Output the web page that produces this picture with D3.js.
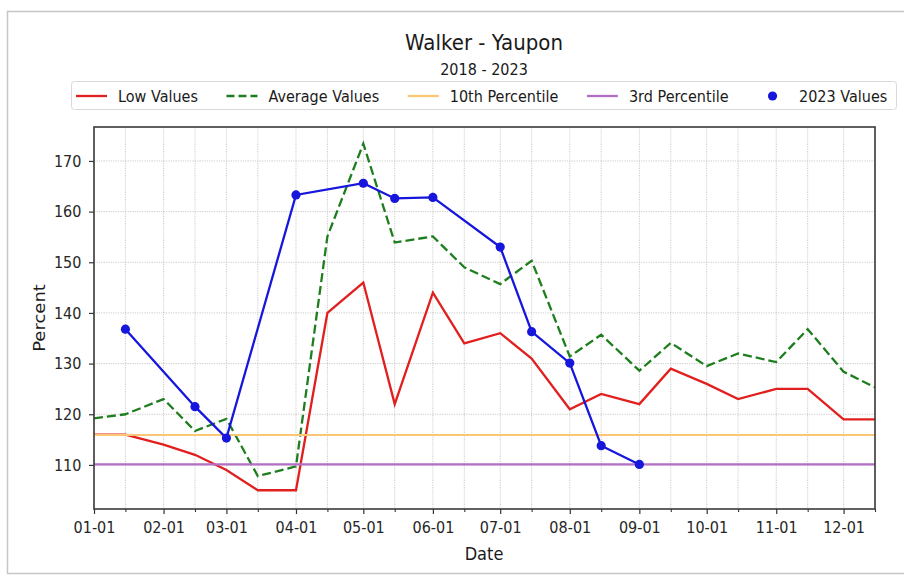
<!DOCTYPE html>
<html>
<head>
<meta charset="utf-8">
<script src="https://cdn.jsdelivr.net/npm/d3@7"></script>
<style>
    body { margin: 0; background: #fff; }
    svg { display: block; font-family: "DejaVu Sans", sans-serif; }
</style>
</head>
<body>
<svg id="chart" width="904" height="575"></svg>
<script>
// data
const dates = ['01-01', '01-15', '02-01', '02-15', '03-01', '03-15', '04-01', '04-15',
    '05-01', '05-15', '06-01', '06-15', '07-01', '07-15', '08-01', '08-15',
    '09-01', '09-15', '10-01', '10-15', '11-01', '11-15', '12-01', '12-15']
const lowValues = [116, 116, 114, 112, 109, 105, 105, 140, 146, 122, 144, 134,
    136, 131, 121, 124, 122, 129, 126, 123, 125, 125, 119, 119]
const avgValues = [119.2, 120, 123, 116.7, 119.1, 107.8, 109.7, 155.1, 173.4, 153.9, 155.1, 149.0,
    145.7, 150.3, 131.4, 135.7, 128.6, 134.1, 129.5, 132.0, 130.3, 136.8, 128.4, 125.3]
const dates2023 = ['01-15', '02-15', '03-01', '04-01', '05-01', '05-15', '06-01',
    '07-01', '07-15', '08-01', '08-15', '09-01']
const values2023 = [136.8, 121.5, 115.3, 163.3, 165.6, 162.6, 162.8, 153.0, 136.3, 130.1, 113.8, 110.1]
const p10 = 115.9
const p3 = 110.1
const yTicks = [110, 120, 130, 140, 150, 160, 170]
const yDomain = [101.3, 176.7]

const titleText = 'Walker - Yaupon'
const subtitleText = '2018 - 2023'

// the source screenshot looks squeezed sideways a bit
const sx = 0.9

const svg = d3.select('#chart')
const margin = { top: 127, right: 29, bottom: 66, left: 94 },
    width = 904 - margin.left - margin.right,
    height = 575 - margin.top - margin.bottom

const parse = d => d3.timeParse('%Y-%m-%d')('2023-' + d)
const toPts = (ds, vs) => ds.map((d, i) => ({ date: parse(d), value: vs[i] }))

const lowData = toPts(dates, lowValues)
const avgData = toPts(dates, avgValues)
const data2023 = toPts(dates2023, values2023)
const start = parse(dates[0]), end = parse(dates[dates.length - 1])

// outer frame of the screenshot
svg.append('rect')
    .attr('x', 7.5).attr('y', 11.5)
    .attr('width', 930).attr('height', 562)
    .attr('fill', '#fff')
    .attr('stroke', '#c6c6c6')
    .attr('stroke-width', 1.5)

const x = d3.scaleTime().domain([start, end]).range([0, width])
const y = d3.scaleLinear().domain(yDomain).range([height, 0])

const majorX = d3.timeMonth.range(start, d3.timeDay.offset(end, 1))
const minorX = d3.timeDay.range(start, d3.timeDay.offset(end, 1)).filter(d => d.getDate() === 15)

const g = svg.append('g').attr('transform', `translate(${margin.left},${margin.top})`)

// grid
g.append('g').selectAll('line.gx')
    .data(majorX.concat(minorX))
    .join('line')
    .attr('x1', d => x(d)).attr('x2', d => x(d))
    .attr('y1', 0).attr('y2', height)
    .attr('stroke', '#bdbdbd').attr('stroke-width', 0.8)
    .attr('stroke-dasharray', '1.2,1.2')
g.append('g').selectAll('line.gy')
    .data(yTicks)
    .join('line')
    .attr('x1', 0).attr('x2', width)
    .attr('y1', d => y(d)).attr('y2', d => y(d))
    .attr('stroke', '#bdbdbd').attr('stroke-width', 0.8)
    .attr('stroke-dasharray', '1.2,1.2')

// axes
const xAxis = g.append('g')
    .attr('transform', `translate(0,${height})`)
    .call(d3.axisBottom(x).tickValues(majorX).tickFormat(d3.timeFormat('%m-%d'))
        .tickSize(5).tickPadding(8).tickSizeOuter(0))
g.append('g')
    .attr('transform', `translate(0,${height})`)
    .call(d3.axisBottom(x).tickValues(minorX).tickFormat('').tickSize(3).tickSizeOuter(0))
    .call(a => a.select('.domain').remove())
    .selectAll('line').attr('stroke', '#333').attr('stroke-width', 1.1)
const yAxis = g.append('g')
    .call(d3.axisLeft(y).tickValues(yTicks).tickSize(5).tickPadding(9).tickSizeOuter(0))

;[xAxis, yAxis].forEach(a => {
    a.select('.domain').remove()
    a.selectAll('line').attr('stroke', '#333').attr('stroke-width', 1.2)
    a.selectAll('text')
        .attr('font-family', '"DejaVu Sans", sans-serif')
        .attr('font-size', 16)
        .attr('fill', '#262626')
        .attr('transform', `scale(${sx},1)`)
})

// series
const line = d3.line().x(d => x(d.date)).y(d => y(d.value))

g.append('path').datum(lowData)
    .attr('d', line).attr('fill', 'none')
    .attr('stroke', '#e21f1f').attr('stroke-width', 2.3)
g.append('path').datum(avgData)
    .attr('d', line).attr('fill', 'none')
    .attr('stroke', '#1e7e1e').attr('stroke-width', 2.3)
    .attr('stroke-dasharray', '9,4')
g.append('path').datum([{ date: start, value: p10 }, { date: end, value: p10 }])
    .attr('d', line).attr('fill', 'none')
    .attr('stroke', '#fbc775').attr('stroke-width', 2)
g.append('path').datum([{ date: start, value: p3 }, { date: end, value: p3 }])
    .attr('d', line).attr('fill', 'none')
    .attr('stroke', '#b46ec4').attr('stroke-width', 2.3)
g.append('path').datum(data2023)
    .attr('d', line).attr('fill', 'none')
    .attr('stroke', '#1616dc').attr('stroke-width', 2.3)
g.append('g').selectAll('circle')
    .data(data2023)
    .join('circle')
    .attr('cx', d => x(d.date)).attr('cy', d => y(d.value))
    .attr('r', 4.6)
    .attr('fill', '#1616dc')

// spines
g.append('rect')
    .attr('width', width).attr('height', height)
    .attr('fill', 'none')
    .attr('stroke', '#3a3a3a').attr('stroke-width', 1.6)

// titles
svg.append('text')
    .attr('transform', `translate(484,50) scale(${sx},1)`)
    .attr('text-anchor', 'middle')
    .attr('font-size', 22).attr('fill', '#1a1a1a')
    .text(titleText)
svg.append('text')
    .attr('transform', `translate(484,75) scale(${sx},1)`)
    .attr('text-anchor', 'middle')
    .attr('font-size', 16).attr('fill', '#1a1a1a')
    .text(subtitleText)
svg.append('text')
    .attr('transform', `translate(484,560) scale(${sx},1)`)
    .attr('text-anchor', 'middle')
    .attr('font-size', 18).attr('fill', '#1a1a1a')
    .text('Date')
svg.append('text')
    .attr('transform', `translate(45,318) rotate(-90) scale(1,${sx})`)
    .attr('text-anchor', 'middle')
    .attr('font-size', 18).attr('fill', '#1a1a1a')
    .text('Percent')

// legend
const legendItems = [
    { label: 'Low Values', kind: 'line', color: '#e21f1f' },
    { label: 'Average Values', kind: 'dash', color: '#1e7e1e' },
    { label: '10th Percentile', kind: 'line', color: '#fbc775' },
    { label: '3rd Percentile', kind: 'line', color: '#b46ec4' },
    { label: '2023 Values', kind: 'dot', color: '#1616dc' }
]
const legend = svg.append('g')
legend.append('rect')
    .attr('x', 71.5).attr('y', 81.5)
    .attr('width', 825).attr('height', 28)
    .attr('rx', 3)
    .attr('fill', '#fff')
    .attr('stroke', '#d9d9d9')

const handleLen = 31, handlePad = 11, colGap = 28.5, ly = 96
let lx = 76
legendItems.forEach(item => {
    if (item.kind === 'dot') {
        legend.append('circle')
            .attr('cx', lx + handleLen / 2).attr('cy', ly)
            .attr('r', 4.6).attr('fill', item.color)
    } else {
        legend.append('line')
            .attr('x1', lx).attr('x2', lx + handleLen)
            .attr('y1', ly).attr('y2', ly)
            .attr('stroke', item.color).attr('stroke-width', 2.3)
            .attr('stroke-dasharray', item.kind === 'dash' ? '8,4' : null)
    }
    const tx = lx + handleLen + handlePad
    const t = legend.append('text')
        .attr('transform', `translate(${tx},${ly + 5.5}) scale(${sx},1)`)
        .attr('font-size', 16).attr('fill', '#1a1a1a')
        .text(item.label)
    lx = tx + t.node().getComputedTextLength() * sx + colGap
})
</script>
</body>
</html>
